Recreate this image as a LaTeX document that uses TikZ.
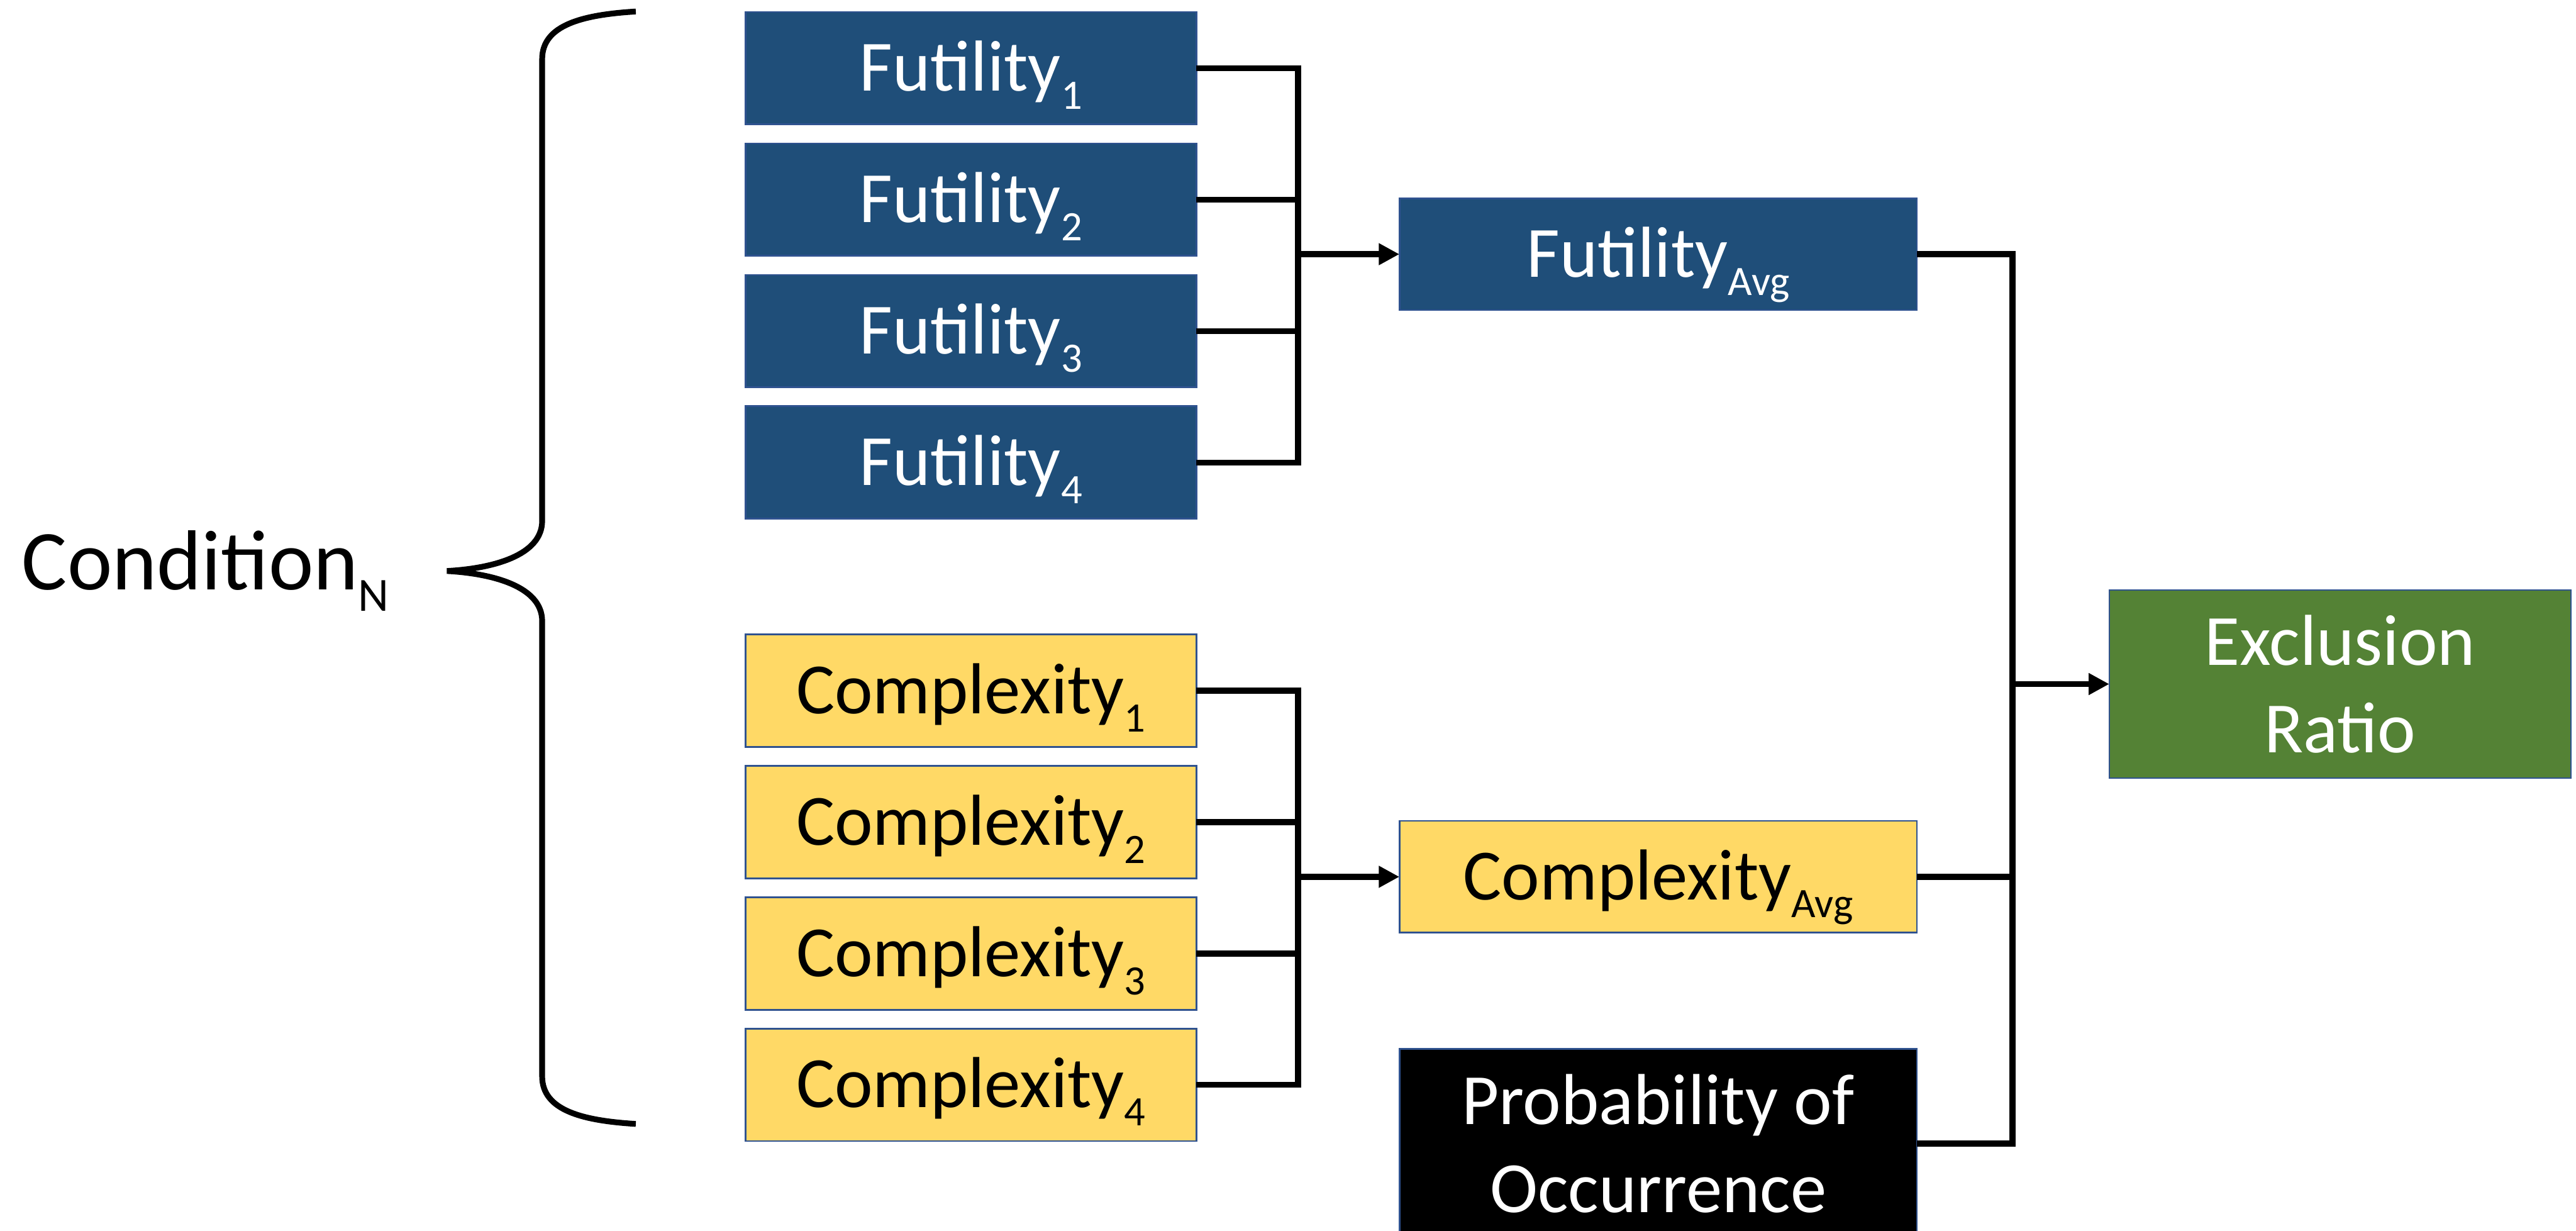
\documentclass[tikz,border=0pt]{standalone}
\usepackage{fontspec}
\setmainfont{Carlito}
\usepackage{tikz}
\usetikzlibrary{positioning,calc,arrows.meta}
\definecolor{futblue}{HTML}{1F4E79}
\definecolor{cpxgold}{HTML}{FFD966}
\definecolor{exgreen}{HTML}{548235}
\definecolor{edgeblue}{HTML}{2F528F}
\tikzset{
  wire/.style    = {line width=2.1pt},
  arw/.style     = {line width=2.1pt, -{Triangle[length=0.25cm,width=0.25cm]}},
  brace/.style   = {line width=2pt},
  tbox/.style    = {draw=edgeblue, line width=0.6pt, inner sep=0pt, outer sep=0pt,
                    font=\fontsize{25}{30.4}\selectfont},
  inbox/.style   = {tbox, minimum width=5.49cm, minimum height=1.37cm,
                    text height=15.8pt, text depth=0pt},
  fbox/.style    = {inbox, fill=futblue, text=white},
  cbox/.style    = {inbox, fill=cpxgold, text=black},
  abox/.style    = {minimum width=6.3cm, minimum height=1.36cm},
  pbox/.style    = {tbox, fill=black, text=white, align=center,
                    minimum width=6.3cm, minimum height=2.31cm},
  ebox/.style    = {tbox, fill=exgreen, text=white, align=center,
                    minimum width=5.62cm, minimum height=2.29cm},
  clbl/.style    = {inner sep=0pt, font=\fontsize{29.5}{34}\selectfont},
}
\newcommand{\subtxt}[2][14.5]{\raisebox{-0.25em}{\fontsize{#1}{#1}\selectfont #2}}

\begin{document}
\begin{tikzpicture}[x=0.2mm,y=-0.2mm]
  \useasboundingbox (0,0) rectangle (1568,749);
  % futility inputs
  \node[fbox] (fut1) at (591,41.5)  {Futility\subtxt{1}};
  \node[fbox] (fut2) at (591,121.5) {Futility\subtxt{2}};
  \node[fbox] (fut3) at (591,201.5) {Futility\subtxt{3}};
  \node[fbox] (fut4) at (591,281.5) {Futility\subtxt{4}};
  % complexity inputs
  \node[cbox] (cpx1) at (591,420.4) {Complexity\subtxt{1}};
  \node[cbox] (cpx2) at (591,500.4) {Complexity\subtxt{2}};
  \node[cbox] (cpx3) at (591,580.4) {Complexity\subtxt{3}};
  \node[cbox] (cpx4) at (591,660.2) {Complexity\subtxt{4}};
  % averages and result
  \node[fbox,abox] (favg) at (1009.3,154.7) {Futility\subtxt{Avg}};
  \node[cbox,abox] (cavg) at (1009.3,533.6) {Complexity\subtxt{Avg}};
  \node[pbox] (prob) at (1009.3,696) {Probability of\\Occurrence};
  \node[ebox] (excl) at (1424.4,416.3) {Exclusion\\Ratio};
  \node[clbl,anchor=base west] (cond) at (13,359) {Condition\subtxt[16.5]{N}};
  \coordinate (fbus) at (790,0);
  \coordinate (rbus) at (1225,0);
  % brace
  \draw[brace] (387,7) .. controls (355,9) and (330,15) .. (330,36) -- (330,317)
    .. controls (330,338) and (300,346) .. (272,347.5)
    .. controls (300,349) and (330,357) .. (330,378) -- (330,655)
    .. controls (330,676) and (355,682) .. (387,684);
  % futility bus
  \draw[wire] (fut1.east) -| (fut4.east -| fbus) -- (fut4.east);
  \draw[wire] (fut2.east) -- (fut2.east -| fbus);
  \draw[wire] (fut3.east) -- (fut3.east -| fbus);
  \draw[arw] (favg.west -| fbus) -- (favg.west);
  % complexity bus
  \draw[wire] (cpx1.east) -| (cpx4.east -| fbus) -- (cpx4.east);
  \draw[wire] (cpx2.east) -- (cpx2.east -| fbus);
  \draw[wire] (cpx3.east) -- (cpx3.east -| fbus);
  \draw[arw] (cavg.west -| fbus) -- (cavg.west);
  % right bus
  \draw[wire] (favg.east) -| (prob.east -| rbus) -- (prob.east);
  \draw[wire] (cavg.east) -- (cavg.east -| rbus);
  \draw[arw] (excl.west -| rbus) -- (excl.west);
\end{tikzpicture}
\end{document}
